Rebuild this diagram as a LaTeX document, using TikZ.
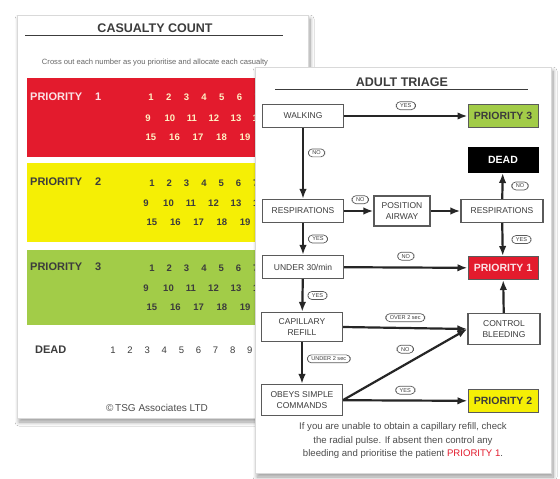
\documentclass[tikz,border=0pt]{standalone}
\usepackage{fontspec}
\setmainfont{Liberation Sans}
\usepackage{xcolor}
\usepackage{tikz}
\usetikzlibrary{
  arrows.meta,
  positioning,
  shadows,
  shadows.blur
}
\definecolor{TriageRed}{HTML}{E31B2D}
\definecolor{TriageYellow}{HTML}{F5EF05}
\definecolor{TriageGreen}{HTML}{A2CC48}
\definecolor{TriageInk}{HTML}{3C3C3C}
\definecolor{TriageEdge}{HTML}{5A5A5A}
\definecolor{TriageCream}{HTML}{FFF1C4}
\definecolor{TriageBlush}{HTML}{FBE3E6}

\begin{document}
\begin{tikzpicture}[x=1pt,y=-1pt,
    card/.style={fill=white,draw=black!15,line width=0.6pt,
      blur shadow={shadow xshift=2pt,shadow yshift=-4pt,shadow blur steps=10,shadow blur radius=4pt}},
    cardtitle/.style={font=\fontsize{12.5}{14}\selectfont\bfseries,text=TriageInk,inner sep=1pt},
    rowlabel/.style={font=\fontsize{11}{12}\selectfont\bfseries,anchor=west,inner sep=0pt},
    tally/.style={font=\fontsize{9.5}{10}\selectfont\bfseries,inner sep=0pt},
    stepbox/.style={draw=TriageEdge,line width=1.3pt,fill=white,text=TriageInk,
      font=\fontsize{8.5}{10.5}\selectfont,align=center,inner sep=1pt,
      minimum width=81pt,minimum height=23pt},
    outcome/.style={draw=TriageEdge,line width=1pt,font=\fontsize{10.5}{12}\selectfont\bfseries,
      minimum width=70pt,minimum height=23pt,inner sep=1pt},
    answer/.style={draw=TriageEdge,line width=0.7pt,rounded corners=4pt,fill=white,
      text=TriageInk,font=\fontsize{5.6}{6}\selectfont,inner xsep=4pt,inner ysep=2pt},
    flow/.style={draw=black!85,line width=2.2pt,-{Latex[length=10pt,width=7.5pt]}}
  ]
  % page
  \fill[white] (0,0) rectangle (560,479);
  \useasboundingbox (0,0) rectangle (560,479);

  % --- casualty count card ---
  \path[card] (17,15) rectangle (308,418);
  \node[cardtitle] (countTitle) at (155,28) {CASUALTY COUNT};
  \draw[TriageInk,line width=0.9pt] (25,35) -- (283,35);
  \node[font=\fontsize{7.6}{8}\selectfont,text=black!60] (countHint) at (155,63)
    {Cross out each number as you prioritise and allocate each casualty};

  \fill[TriageRed] (27,78) rectangle (262,157);
  \fill[TriageYellow] (27,163) rectangle (262,242);
  \fill[TriageGreen] (27,250) rectangle (262,325);

  \node[rowlabel,text=TriageBlush] (pOneLabel) at (30,97) {PRIORITY\hspace{13pt}1};
  \node[rowlabel,text=TriageInk] (pTwoLabel) at (30,182) {PRIORITY\hspace{13pt}2};
  \node[rowlabel,text=TriageInk] (pThreeLabel) at (30,267) {PRIORITY\hspace{13pt}3};

  \foreach \n [count=\i from 0] in {1,...,7}
    \node[tally,text=TriageCream] (pOne-\n) at ({151+17.7*\i},97) {\n};
  \foreach \n [count=\i from 0] in {9,...,14}
    \node[tally,text=TriageCream] (pOne-\n) at ({148+22*\i},118) {\n};
  \foreach \n [count=\i from 0] in {15,...,19}
    \node[tally,text=TriageCream] (pOne-\n) at ({151+23.5*\i},137) {\n};

  \foreach \n [count=\i from 0] in {1,...,7}
    \node[tally,text=TriageInk] (pTwo-\n) at ({152+17.3*\i},183) {\n};
  \foreach \n [count=\i from 0] in {9,...,14}
    \node[tally,text=TriageInk] (pTwo-\n) at ({146+22.5*\i},203) {\n};
  \foreach \n [count=\i from 0] in {15,...,19}
    \node[tally,text=TriageInk] (pTwo-\n) at ({152+23.3*\i},222) {\n};

  \foreach \n [count=\i from 0] in {1,...,7}
    \node[tally,text=TriageInk] (pThree-\n) at ({152+17.3*\i},268) {\n};
  \foreach \n [count=\i from 0] in {9,...,14}
    \node[tally,text=TriageInk] (pThree-\n) at ({146+22.5*\i},288) {\n};
  \foreach \n [count=\i from 0] in {15,...,19}
    \node[tally,text=TriageInk] (pThree-\n) at ({152+23.3*\i},307) {\n};

  \node[rowlabel,text=TriageInk] (deadLabel) at (35,350) {DEAD};
  \foreach \n [count=\i from 0] in {1,...,9}
    \node[font=\fontsize{9.5}{10}\selectfont,text=TriageInk] (dead-\n) at ({113+17.1*\i},350) {\n};

  \node[font=\fontsize{10}{11}\selectfont,text=black!70] (copyright) at (157,408) {\textcopyright\,TSG Associates LTD};

  % --- adult triage card ---
  \path[card] (255,67) rectangle (551,473);
  \node[cardtitle] (triageTitle) at (402,82) {ADULT TRIAGE};
  \draw[TriageInk,line width=0.9pt] (275,89) -- (528,89);

  \node[stepbox] (walking) at (303,116) {WALKING};
  \node[stepbox] (respLeft) at (303,211) {RESPIRATIONS};
  \node[stepbox,minimum width=56pt,minimum height=30pt] (airway) at (402,211) {POSITION\\AIRWAY};
  \node[stepbox,minimum width=82pt] (respRight) at (502,211) {RESPIRATIONS};
  \node[stepbox] (under) at (303,267) {UNDER 30/min};
  \node[stepbox,minimum height=29pt] (capillary) at (302,327) {CAPILLARY\\REFILL};
  \node[stepbox,minimum width=72pt,minimum height=31pt] (bleeding) at (504,329) {CONTROL\\BLEEDING};
  \node[stepbox,minimum height=31pt] (obeys) at (302,400) {OBEYS SIMPLE\\COMMANDS};

  \node[outcome,fill=TriageGreen,text=TriageInk] (prioThree) at (503,116) {PRIORITY 3};
  \node[outcome,fill=black,draw=black,text=white,minimum height=25pt] (dead) at (503,160) {DEAD};
  \node[outcome,fill=TriageRed,text=TriageBlush] (prioOne) at (503,268) {PRIORITY 1};
  \node[outcome,fill=TriageYellow,text=TriageInk] (prioTwo) at (503,401) {PRIORITY 2};

  \draw[flow] (walking) -- node[answer,above=6pt] (yesWalk) {YES} (prioThree);
  \draw[flow] (walking) -- node[answer,right=5pt,pos=0.35] (noWalk) {NO} (respLeft);
  \draw[flow] (respLeft) -- node[answer,above=7pt,pos=0.55] (noResp) {NO} (airway);
  \draw[flow] (airway) -- (respRight);
  \draw[flow] (respRight) -- node[answer,right=9pt] (noBreath) {NO} (dead);
  \draw[flow] (respRight) -- node[answer,right=9pt] (yesBreath) {YES} (prioOne);
  \draw[flow] (respLeft) -- node[answer,right=5pt] (yesResp) {YES} (under);
  \draw[flow] (under) -- node[answer,above=7pt] (noRate) {NO} (prioOne);
  \draw[flow] (under) -- node[answer,right=5pt] (yesRate) {YES} (capillary);
  \draw[flow] (capillary.east) -- node[answer,above=6pt] (overRefill) {OVER 2 sec} (bleeding.west);
  \draw[flow] (capillary) -- node[answer,right=5pt,pos=0.4] (underRefill) {UNDER 2 sec} (obeys);
  \draw[flow] (obeys.east) -- node[answer,above=11pt] (noObey) {NO} (bleeding.west);
  \draw[flow] (obeys) -- node[answer,above=6pt] (yesObey) {YES} (prioTwo);
  \draw[flow] (bleeding) -- (prioOne);

  \node[font=\fontsize{9.6}{13.5}\selectfont,text=black!70,align=center] (footnote) at (403,441)
    {If you are unable to obtain a capillary refill, check\\
     the radial pulse. If absent then control any\\
     bleeding and prioritise the patient \textcolor{TriageRed}{PRIORITY 1}.};
\end{tikzpicture}
\end{document}
